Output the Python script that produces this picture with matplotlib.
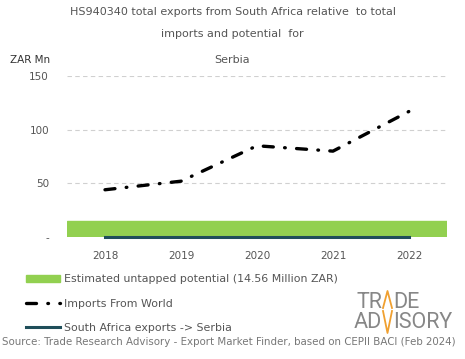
import matplotlib
matplotlib.use('Agg')
import matplotlib.pyplot as plt
from matplotlib.patches import Patch
from matplotlib.lines import Line2D

plt.rcParams['font.family'] = ['DejaVu Sans']

years = [2018, 2019, 2020, 2021, 2022]
imports_world = [44, 52, 85, 80, 117]
sa_exports = [0, 0, 0, 0, 0]
potential = 14.56

grey = '#555555'
fig = plt.figure(figsize=(4.65, 3.59), dpi=100)
ax = fig.add_axes([67 / 465, 1 - 237 / 359, 380 / 465, 161 / 359])

ax.axhspan(0, potential, color='#92d050', zorder=1)
ax.plot(years, imports_world, color='black', lw=2.4, dashes=(3.0, 3.4, 0.2, 3.4),
        dash_capstyle='round', zorder=3)
ax.plot(years, sa_exports, color='#1f4e5a', lw=2.2, zorder=2, clip_on=False)

ax.set_xlim(2017.5, 2022.5)
ax.set_ylim(0, 150)
ax.set_yticks([0, 50, 100, 150])
ax.set_yticklabels(['-', '50', '100', '150'])
ax.set_xticks(years)
ax.yaxis.grid(True, linestyle=(0, (4, 3)), color='#d0d0d0', lw=0.8)
ax.set_axisbelow(True)
for s in ax.spines.values():
    s.set_visible(False)
ax.tick_params(length=0, colors=grey, labelsize=7.5)
ax.tick_params(axis='x', pad=10)
ax.tick_params(axis='y', pad=13)

fig.text(0.5, 1 - 12 / 359, 'HS940340 total exports from South Africa relative  to total',
         ha='center', va='center', fontsize=8, color=grey)
fig.text(0.5, 1 - 34 / 359, 'imports and potential  for', ha='center', va='center',
         fontsize=8, color=grey)
fig.text(0.5, 1 - 60 / 359, 'Serbia', ha='center', va='center', fontsize=8, color=grey)
fig.text(10 / 465, 1 - 60 / 359, 'ZAR Mn', ha='left', va='center', fontsize=7.5, color='#333333')

handles = [Patch(color='#92d050'),
           Line2D([], [], color='black', lw=2.4, dashes=(3.0, 3.4, 0.2, 3.4), dash_capstyle='round'),
           Line2D([], [], color='#1f4e5a', lw=2.2)]
labels = ['Estimated untapped potential (14.56 Million ZAR)', 'Imports From World',
          'South Africa exports -> Serbia']
leg = fig.legend(handles, labels, loc='upper left', bbox_to_anchor=(22 / 465, 1 - 270 / 359),
                 frameon=False, fontsize=7.9, handlelength=3.1, handletextpad=0.3,
                 labelspacing=1.3, borderaxespad=0)
for t in leg.get_texts():
    t.set_color(grey)

fig.text(2 / 465, 1 - 342 / 359,
         'Source: Trade Research Advisory - Export Market Finder, based on CEPII BACI (Feb 2024)',
         ha='left', va='center', fontsize=7.4, color='#777777')

# logo
logo = dict(fontsize=15.5, color='#878787', family=['Roboto', 'DejaVu Sans'],
            fontweight='normal', va='baseline')
fig.text(382 / 465, 1 - 308 / 359, 'TR', ha='right', **logo)
fig.text(393 / 465, 1 - 308 / 359, 'DE', ha='left', **logo)
fig.text(382 / 465, 1 - 328 / 359, 'AD', ha='right', **logo)
fig.text(393 / 465, 1 - 328 / 359, 'ISORY', ha='left', **logo)
orange = '#f0a030'
fig.add_artist(Line2D([383 / 465, 387.5 / 465, 392 / 465], [1 - 308 / 359, 1 - 291 / 359, 1 - 308 / 359],
                      color=orange, lw=1.3))
fig.add_artist(Line2D([383 / 465, 387.5 / 465, 392 / 465], [1 - 311 / 359, 1 - 333 / 359, 1 - 311 / 359],
                      color=orange, lw=1.3))

fig.savefig('out.png', dpi=100)
